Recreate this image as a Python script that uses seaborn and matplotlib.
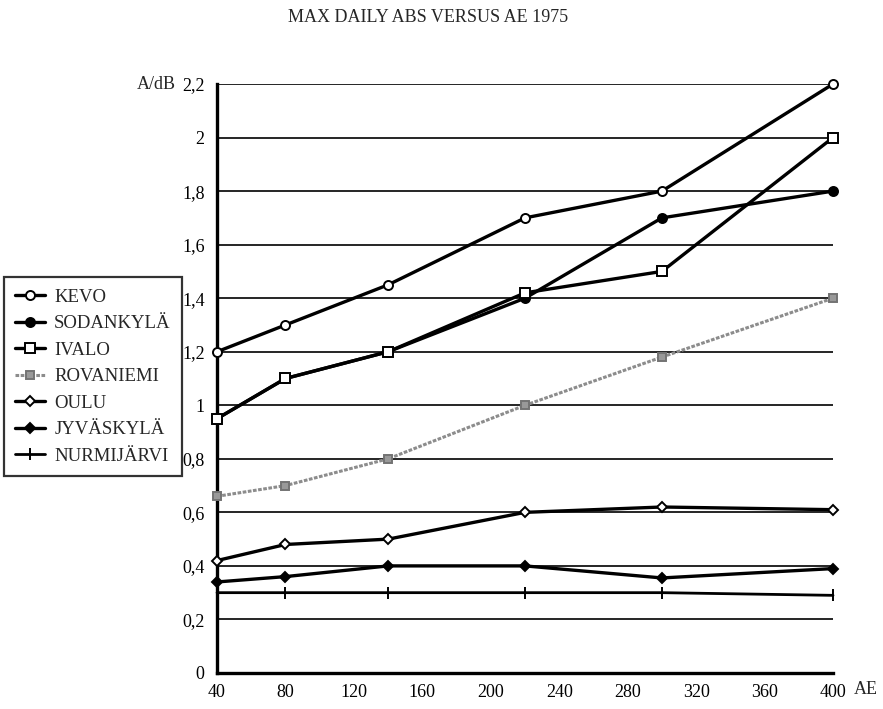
import matplotlib
matplotlib.use("Agg")
import matplotlib.pyplot as plt
from matplotlib.ticker import FuncFormatter, MultipleLocator
import seaborn as sns
import pandas as pd

# ---- data ----
ae = [40, 80, 140, 220, 300, 400]
kevo = [1.20, 1.30, 1.45, 1.70, 1.80, 2.20]
sodankyla = [0.95, 1.10, 1.20, 1.40, 1.70, 1.80]
ivalo = [0.95, 1.10, 1.20, 1.42, 1.50, 2.00]
rovaniemi = [0.66, 0.70, 0.80, 1.00, 1.18, 1.40]
oulu = [0.42, 0.48, 0.50, 0.60, 0.62, 0.61]
jyvaskyla = [0.34, 0.36, 0.40, 0.40, 0.355, 0.39]
nurmijarvi = [0.30, 0.30, 0.30, 0.30, 0.30, 0.29]
stations = ["KEVO", "SODANKYLÄ", "IVALO", "ROVANIEMI", "OULU", "JYVÄSKYLÄ", "NURMIJÄRVI"]
series = [kevo, sodankyla, ivalo, rovaniemi, oulu, jyvaskyla, nurmijarvi]
x_ticks = [40, 80, 120, 160, 200, 240, 280, 320, 360, 400]
title = "MAX DAILY ABS VERSUS AE 1975"

rows = []
for name, vals in zip(stations, series):
    for a, v in zip(ae, vals):
        rows.append({"station": name, "AE": a, "A": v})
df = pd.DataFrame(rows)

sns.set_style("white")
plt.rcParams["font.family"] = ["Liberation Serif", "DejaVu Serif"]

fig = plt.figure(figsize=(8.83, 7.09), dpi=100)
ax = fig.add_axes([0.2458, 0.0508, 0.9434 - 0.2458, 0.8815 - 0.0508])

styles = {
    "KEVO": dict(marker="o", color="black", mfc="white", mec="black", ms=6.5, lw=2.4, ls="-"),
    "SODANKYLÄ": dict(marker="o", color="black", mfc="black", mec="black", ms=6.5, lw=2.4, ls="-"),
    "IVALO": dict(marker="s", color="black", mfc="white", mec="black", ms=6.5, lw=2.4, ls="-"),
    "ROVANIEMI": dict(marker="s", color="0.55", mfc="0.6", mec="0.45", ms=6, lw=2.2, ls=(0, (1.2, 0.5))),
    "OULU": dict(marker="D", color="black", mfc="white", mec="black", ms=5, lw=2.4, ls="-"),
    "JYVÄSKYLÄ": dict(marker="D", color="black", mfc="black", mec="black", ms=5, lw=2.4, ls="-"),
    "NURMIJÄRVI": dict(marker="|", color="black", mfc="black", mec="black", ms=9, lw=2.0, ls="-"),
}

for name in stations:
    st = styles[name]
    sub = df[df["station"] == name]
    sns.lineplot(data=sub, x="AE", y="A", ax=ax, label=name,
                 color=st["color"], linewidth=st["lw"], linestyle=st["ls"],
                 marker=st["marker"], markersize=st["ms"],
                 markerfacecolor=st["mfc"], markeredgecolor=st["mec"],
                 markeredgewidth=1.4, clip_on=False, zorder=3)

ax.set_xlim(40, 400)
ax.set_ylim(0, 2.2)
ax.set_xticks(x_ticks)
ax.yaxis.set_major_locator(MultipleLocator(0.2))
ax.yaxis.set_major_formatter(FuncFormatter(lambda v, p: f"{round(v, 1):g}".replace(".", ",")))
ax.grid(axis="y", color="black", linewidth=1.2)
ax.grid(axis="x", visible=False)
ax.set_axisbelow(True)
for s in ["top", "right"]:
    ax.spines[s].set_visible(False)
ax.spines["left"].set_linewidth(2.4)
ax.spines["bottom"].set_linewidth(2.4)
ax.spines["left"].set_color("black")
ax.spines["bottom"].set_color("black")
ax.tick_params(axis="x", direction="inout", length=12, width=2, labelsize=13, pad=2, colors="black")
ax.tick_params(axis="y", direction="out", length=6, width=2, labelsize=13, pad=3, colors="black")
ax.set_xlabel("")
ax.set_ylabel("")

fig.text(0.485, 0.975, title, ha="center", va="center", fontsize=13)
fig.text(0.177, 0.881, "A/dB", ha="center", va="center", fontsize=13)
fig.text(0.98, 0.027, "AE", ha="center", va="center", fontsize=13)

ax.get_legend().remove()
handles, labels = ax.get_legend_handles_labels()
leg = fig.legend(handles, labels, loc="upper left", bbox_to_anchor=(0.004, 0.609),
                 frameon=True, fancybox=False, edgecolor="black", fontsize=13.5,
                 handlelength=1.6, handletextpad=0.5, labelspacing=0.5,
                 borderpad=0.6, borderaxespad=0)
leg.get_frame().set_linewidth(1.6)

fig.savefig("out.png", dpi=100)
